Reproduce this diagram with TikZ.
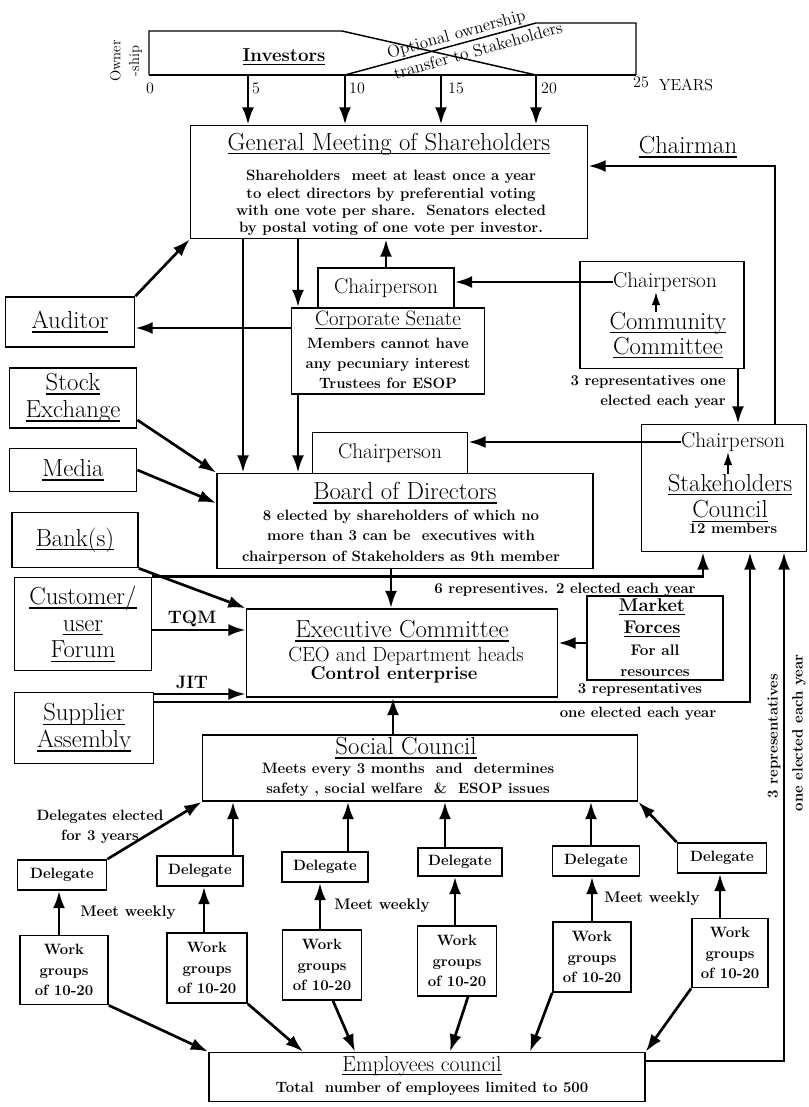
\documentclass[tikz,border=0pt]{standalone}
\usepackage{tikz}
\usetikzlibrary{arrows.meta}
\tikzset{box/.style = {draw, line width=1.3pt, inner sep=0pt, align=center}}
\tikzset{wh/.style 2 args = {minimum width=#1*0.75pt, minimum height=#2*0.75pt}}
\tikzset{arr/.style = {line width=2pt, -{Latex[length=13pt,width=9pt]}}}
\tikzset{arrs/.style = {line width=1.5pt, -{Latex[length=10pt,width=6.5pt]}}}
\tikzset{ttl/.style = {font=\fontsize{18.5}{20}\selectfont, align=center}}
\tikzset{chp/.style = {font=\fontsize{16}{18}\selectfont}}
\tikzset{bod/.style = {font=\fontsize{11.2}{15}\selectfont\bfseries, align=center}}
\tikzset{tick/.style = {font=\fontsize{12}{14}\selectfont}}
\tikzset{chart/.style = {line width=1.1pt}}
\newcommand{\undl}[1]{\leavevmode\setbox0\hbox{#1}\rlap{\rule[-0.17em]{\wd0}{0.06em}}\box0}

\begin{document}
\begin{tikzpicture}[x=0.75pt, y=-0.75pt, inner sep=0pt]
  \fill [white] (0,0) rectangle (808,1107);
  \useasboundingbox (0,0) rectangle (808,1107);

  % ownership over the years
  \coordinate (t0) at (149,75);
  \coordinate (t5) at (248,75);
  \coordinate (t10) at (345,75);
  \coordinate (t15) at (441,75);
  \coordinate (t20) at (536,75);
  \coordinate (t25) at (636,75);
  \draw [chart] (t0) -- (149,31) -- (342,31) -- (t20);
  \draw [chart] (t10) -- (536,23) -- (636,23) -- (t25);
  \draw [chart] (t0) -- (t25);

  \node [font=\fontsize{11}{14}\selectfont, rotate=90, align=center] (owner) at (126,61) {Owner\\-ship};
  \node [font=\fontsize{14}{16}\selectfont\bfseries] (inv) at (284,57) {\undl{Investors}};
  \node [font=\fontsize{12.8}{16.5}\selectfont, rotate=15.5, align=center] (opt) at (459,44)
        {Optional ownership\\\hspace*{25pt}transfer to Stakeholders};
  \node [tick] (l0) at (150,88) {0};
  \node [tick] (l5) at (256,88) {5};
  \node [tick] (l10) at (357,88) {10};
  \node [tick] (l15) at (456,88) {15};
  \node [tick] (l20) at (549,88) {20};
  \node [tick] (l25) at (641,82) {25};
  \node [tick] (years) at (686,85) {YEARS};

  % shareholders and senate
  \node [box, wh={397}{113}] (gm) at (389,182) {};
  \node [ttl] (gmtitle) at (389,144) {\undl{General Meeting of Shareholders}};
  \node [bod, font=\fontsize{11.2}{13}\selectfont\bfseries] (gmtext) at (391,203)
        {Shareholders\ \ meet at least once a year\\to elect directors by preferential voting\\with one vote per share.\ \ Senators elected\\by postal voting of one vote per investor.};
  \node [ttl] (chairman) at (688,147) {\undl{Chairman}};

  \node [box, chp, wh={136}{40}] (schair) at (386,288) {Chairperson};
  \node [box, wh={193}{86}] (senate) at (388,351) {};
  \node [font=\fontsize{15.6}{18}\selectfont] (sentitle) at (388,320) {\undl{Corporate Senate}};
  \node [bod] (sentext) at (388,363) {Members cannot have\\any pecuniary interest\\Trustees for ESOP};
  \node [box, ttl, wh={129}{50}] (auditor) at (70,322) {\undl{Auditor}};

  \node [box, wh={164}{107}] (comm) at (662,315) {};
  \node [chp] (cchair) at (665,282) {Chairperson};
  \node [ttl, font=\fontsize{18.5}{18.75}\selectfont] (ctitle) at (668,335) {\undl{Community}\\\undl{Committee}};
  \node [bod, align=right, anchor=east] (rep3c) at (726,392) {3 representatives one\\elected each year};

  \node [box, wh={165}{127}] (stake) at (724,488) {};
  \node [chp] (stchair) at (733,442) {Chairperson};
  \node [ttl] (sttitle) at (730,498) {\undl{Stakeholders}\\\undl{Council}};
  \node [bod] (stsize) at (733,528) {12 members};

  % board
  \node [box, chp, wh={155}{41}] (bchair) at (390,453) {Chairperson};
  \node [box, wh={376}{95}] (board) at (405,521) {};
  \node [ttl] (btitle) at (405,493) {\undl{Board of Directors}};
  \node [bod, font=\fontsize{11.2}{15.4}\selectfont\bfseries] (btext) at (401,537)
        {8 elected by shareholders of which no\\more than 3 can be\ \ executives with\\chairperson of Stakeholders as 9th member};

  \node [box, ttl, wh={127}{60}] (stock) at (73,398) {\undl{Stock}\\\undl{Exchange}};
  \node [box, ttl, wh={127}{43}] (media) at (73,470) {\undl{Media}};
  \node [box, ttl, wh={126}{55}] (bank) at (75,540) {\undl{Bank(s)}};
  \node [box, ttl, wh={137}{93}] (cust) at (83,624) {\undl{Customer/}\\\undl{user}\\\undl{Forum}};
  \node [box, ttl, wh={139}{71}] (supp) at (84,728) {\undl{Supplier}\\\undl{Assembly}};

  % executive
  \node [box, wh={311}{88}] (exec) at (402,653) {};
  \node [ttl] (etitle) at (402,631) {\undl{Executive Committee}};
  \node [font=\fontsize{15.4}{17}\selectfont] (eceo) at (406,656) {CEO and Department heads};
  \node [font=\fontsize{13.9}{16}\selectfont\bfseries] (ectrl) at (394,675) {Control enterprise};

  \node [box, wh={136}{84}] (market) at (655,638) {};
  \node [font=\fontsize{13.8}{16.5}\selectfont\bfseries, align=center] (mtitle) at (652,618) {\undl{Market}\\\undl{Forces}};
  \node [bod, font=\fontsize{11.5}{15.5}\selectfont\bfseries] (mtext) at (655,661) {For all\\resources};

  \node [bod] (six) at (565,590) {6 representives. 2 elected each year};
  \node [font=\fontsize{13.5}{15}\selectfont\bfseries] (tqm) at (192,619) {TQM};
  \node [font=\fontsize{13.5}{15}\selectfont\bfseries] (jit) at (192,682) {JIT};
  \node [bod] (rep3a) at (640,690) {3 representatives};
  \node [bod] (rep3b) at (638,714) {one elected each year};
  \node [bod, rotate=90] (rep3v) at (774,736) {3 representatives};
  \node [bod, rotate=90] (onev) at (799,733) {one elected each year};

  % social council and work groups
  \node [box, wh={435}{66}] (social) at (420,768) {};
  \node [ttl] (sotitle) at (406,748) {\undl{Social Council}};
  \node [bod] (sotext) at (408,780) {Meets every 3 months\ \ and\ \ determines\\safety , social welfare\ \ \&\ \ ESOP issues};
  \node [bod] (dlgel) at (100,827) {Delegates elected\\for 3 years};

  \node [box, bod, wh={89}{30}] (d1) at (62,875) {Delegate};
  \node [box, bod, wh={86}{30}] (d2) at (200,871) {Delegate};
  \node [box, bod, wh={86}{30}] (d3) at (325,867) {Delegate};
  \node [box, bod, wh={84}{28}] (d4) at (460,862) {Delegate};
  \node [box, bod, wh={87}{30}] (d5) at (596,861) {Delegate};
  \node [box, bod, wh={89}{30}] (d6) at (722,858) {Delegate};

  \node [box, bod, font=\fontsize{11.2}{15.4}\selectfont\bfseries, wh={88}{69}] (w1) at (64,970) {Work\\groups\\of 10-20};
  \node [box, bod, font=\fontsize{11.2}{15.4}\selectfont\bfseries, wh={80}{70}] (w2) at (207,968) {Work\\groups\\of 10-20};
  \node [box, bod, font=\fontsize{11.2}{15.4}\selectfont\bfseries, wh={79}{70}] (w3) at (322,965) {Work\\groups\\of 10-20};
  \node [box, bod, font=\fontsize{11.2}{15.4}\selectfont\bfseries, wh={79}{70}] (w4) at (457,961) {Work\\groups\\of 10-20};
  \node [box, bod, font=\fontsize{11.2}{15.4}\selectfont\bfseries, wh={78}{70}] (w5) at (592,957) {Work\\groups\\of 10-20};
  \node [box, bod, font=\fontsize{11.2}{15.4}\selectfont\bfseries, wh={76}{69}] (w6) at (730,953) {Work\\groups\\of 10-20};

  \node [bod, font=\fontsize{11.5}{14}\selectfont\bfseries] (mw1) at (128,913) {Meet weekly};
  \node [bod, font=\fontsize{11.5}{14}\selectfont\bfseries] (mw2) at (382,906) {Meet weekly};
  \node [bod, font=\fontsize{11.5}{14}\selectfont\bfseries] (mw3) at (652,899) {Meet weekly};

  \node [box, wh={436}{49}] (ec) at (427,1077) {};
  \node [font=\fontsize{16.3}{18}\selectfont] (ectitle) at (422,1066) {\undl{Employees council}};
  \node [bod] (ectext) at (432,1089) {Total\ \ number of employees limited to 500};

  % connectors
  \draw [arr] (t5) -- (t5 |- gm.north);
  \draw [arr] (t10) -- (t10 |- gm.north);
  \draw [arr] (t15) -- (t15 |- gm.north);
  \draw [arr] (t20) -- (t20 |- gm.north);

  \draw [arr] (gm.south -| 243,0) -- (board.north -| 243,0);
  \draw [arr] (gm.south -| 298,0) -- (senate.north -| 298,0);
  \draw [arr] (senate.south -| 298,0) -- (board.north -| 298,0);
  \draw [arr] (schair.north) -- (schair.north |- gm.south);
  \draw [arr] (senate.west |- 0,328) -- (auditor.east |- 0,328);
  \draw [arr] (auditor.north east) -- (gm.south west);
  \draw [arr] (cchair.west) -- (schair.east |- cchair.west);
  \draw [arrs] (ctitle.north -| 656,0) -- (cchair.south -| 656,0);
  \draw [arr] (comm.south -| 738,0) -- (stake.north -| 738,0);
  \draw [arr] (stchair.west) -- (bchair.east |- stchair.west);
  \draw [arrs] (sttitle.north -| 728,0) -- (stchair.south -| 728,0);
  \draw [arr] (stake.north -| 775,0) |- (gm.east |- 0,166);

  \draw [arr] (stock.east |- 0,420) -- (board.north west);
  \draw [arr] (media.east) -- (board.west |- 0,503);
  \draw [arr] (bank.south east) -- (exec.north west);
  \draw [arr] (cust.east |- 0,630) -- (exec.west |- 0,630);
  \draw [arr] (supp.east |- 0,694) -- (exec.west |- 0,694);
  \draw [arr] (cust.north east) -| (stake.south -| 703,0);
  \draw [arr] (supp.east |- 0,702) -| (stake.south -| 750,0);
  \draw [arr] (ec.east |- 0,1061) -| (stake.south -| 784,0);
  \draw [arr] (board.south -| 391,0) -- (exec.north -| 391,0);
  \draw [arr] (market.west |- 0,643) -- (exec.east |- 0,643);
  \draw [arr] (social.north -| 393,0) -- (exec.south -| 393,0);

  \draw [arr] (d1.north east) -- (social.south west);
  \draw [arr] (d2.north -| 233,0) -- (social.south -| 233,0);
  \draw [arr] (d3.north -| 348,0) -- (social.south -| 348,0);
  \draw [arr] (d4.north -| 445,0) -- (social.south -| 445,0);
  \draw [arr] (d5.north -| 591,0) -- (social.south -| 591,0);
  \draw [arr] (d6.north west) -- (social.south east);

  \draw [arr] (w1.north -| 59,0) -- (d1.south -| 59,0);
  \draw [arr] (w2.north -| 204,0) -- (d2.south -| 204,0);
  \draw [arr] (w3.north -| 320,0) -- (d3.south -| 320,0);
  \draw [arr] (w4.north -| 455,0) -- (d4.south -| 455,0);
  \draw [arr] (w5.north -| 592,0) -- (d5.south -| 592,0);
  \draw [arr] (w6.north -| 720,0) -- (d6.south -| 720,0);

  \draw [arr] (w1.south east) -- (ec.north west);
  \draw [arr] (w2.south east) -- (ec.north -| 303,0);
  \draw [arr] (w3.south -| 333,0) -- (ec.north -| 355,0);
  \draw [arr] (w4.south -| 468,0) -- (ec.north -| 450,0);
  \draw [arr] (w5.south west) -- (ec.north -| 530,0);
  \draw [arr] (w6.south west) -- (ec.north east);
\end{tikzpicture}
\end{document}
